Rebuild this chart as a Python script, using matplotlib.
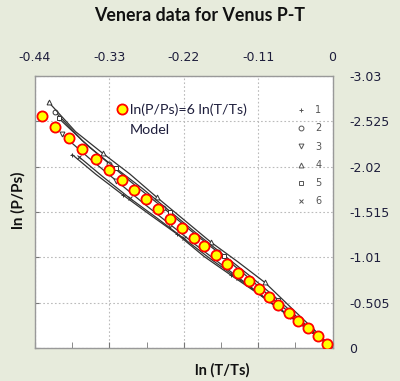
import matplotlib
matplotlib.use("Agg")
import matplotlib.pyplot as plt
from matplotlib.lines import Line2D

# model points ln(P/Ps)=6 ln(T/Ts)
model_lnT = [-0.430, -0.410, -0.389, -0.370, -0.350, -0.331, -0.312, -0.293, -0.276,
             -0.258, -0.240, -0.222, -0.205, -0.190, -0.173, -0.156, -0.140, -0.124,
             -0.109, -0.094, -0.080, -0.065, -0.051, -0.037, -0.022, -0.008]
model_lnP = [-2.580, -2.460, -2.334, -2.220, -2.100, -1.986, -1.872, -1.758, -1.656,
             -1.548, -1.440, -1.332, -1.230, -1.140, -1.038, -0.936, -0.840, -0.744,
             -0.654, -0.564, -0.480, -0.390, -0.306, -0.222, -0.132, -0.048]

# Venera series 1..6
s1_lnT = [-0.385, -0.35, -0.31, -0.27, -0.23, -0.19, -0.15, -0.11, -0.07, -0.035, 0.0]
s1_lnP = [-2.155, -1.935, -1.705, -1.485, -1.27, -1.02, -0.81, -0.605, -0.385, -0.20, 0.0]
s2_lnT = [-0.41, -0.37, -0.33, -0.29, -0.25, -0.21, -0.17, -0.13, -0.09, -0.05, 0.0]
s2_lnP = [-2.63, -2.31, -2.05, -1.80, -1.56, -1.31, -1.07, -0.82, -0.56, -0.31, 0.0]
s3_lnT = [-0.40, -0.36, -0.32, -0.28, -0.24, -0.20, -0.16, -0.12, -0.08, -0.04, 0.0]
s3_lnP = [-2.38, -2.115, -1.865, -1.615, -1.375, -1.135, -0.905, -0.675, -0.445, -0.23, 0.0]
s4_lnT = [-0.42, -0.38, -0.34, -0.30, -0.26, -0.22, -0.18, -0.14, -0.10, -0.06, -0.03, 0.0]
s4_lnP = [-2.74, -2.41, -2.17, -1.94, -1.68, -1.43, -1.18, -0.96, -0.73, -0.44, -0.225, 0.0]
s5_lnT = [-0.405, -0.36, -0.32, -0.28, -0.24, -0.20, -0.16, -0.12, -0.08, -0.04, 0.0]
s5_lnP = [-2.56, -2.24, -2.00, -1.77, -1.52, -1.27, -1.03, -0.79, -0.535, -0.26, 0.0]
s6_lnT = [-0.375, -0.34, -0.30, -0.26, -0.22, -0.18, -0.14, -0.10, -0.06, -0.03, 0.0]
s6_lnP = [-2.13, -1.91, -1.67, -1.45, -1.22, -0.99, -0.775, -0.555, -0.34, -0.17, 0.0]

series_names = ["1", "2", "3", "4", "5", "6"]
series_markers = ["+", "o", "v", "^", "s", "x"]

x_ticks = [-0.44, -0.33, -0.22, -0.11, 0]
x_labels = ["-0.44", "-0.33", "-0.22", "-0.11", "0"]
x_minor = [-0.385, -0.275, -0.165, -0.055]
y_ticks = [-3.03, -2.525, -2.02, -1.515, -1.01, -0.505, 0]
y_labels = ["-3.03", "-2.525", "-2.02", "-1.515", "-1.01", "-0.505", "0"]

bg = "#E7EBDC"
txt = "#1E1E3C"

fig = plt.figure(figsize=(4, 3.81), dpi=100, facecolor=bg)
ax = fig.add_axes([0.0875, 0.0866, 0.7438, 0.7139])
ax.set_facecolor("white")

all_series = [(s1_lnT, s1_lnP), (s2_lnT, s2_lnP), (s3_lnT, s3_lnP),
              (s4_lnT, s4_lnP), (s5_lnT, s5_lnP), (s6_lnT, s6_lnP)]
handles = []
for (xs, ys), name, m in zip(all_series, series_names, series_markers):
    ax.plot(xs, ys, color="#333333", lw=0.9, marker=m, markersize=3.5,
            markerfacecolor="white", markeredgewidth=0.7, markevery=2, zorder=2)
    handles.append(Line2D([], [], ls="none", marker=m, markersize=3.5, color="#555555",
                          markerfacecolor="white", markeredgewidth=0.7, label=name))

model, = ax.plot(model_lnT, model_lnP, ls="none", marker="o", markersize=7.3,
                 markerfacecolor="#FFFF00", markeredgecolor="#FF0000",
                 markeredgewidth=1.3, zorder=3, label="ln(P/Ps)=6 ln(T/Ts)")

ax.set_xlim(-0.44, 0)
ax.set_ylim(0, -3.03)
ax.set_xticks(x_ticks)
ax.set_xticklabels(x_labels)
ax.set_xticks(x_minor, minor=True)
ax.set_yticks(y_ticks)
ax.set_yticklabels(y_labels)

ax.tick_params(axis="x", which="both", bottom=True, top=False, labelbottom=False,
               labeltop=True, direction="in", length=4, color="#777777",
               labelsize=9, labelcolor=txt, pad=9)
ax.tick_params(axis="y", left=True, right=False, labelleft=False, labelright=True,
               direction="in", length=3, color="#777777", labelsize=9,
               labelcolor=txt, pad=12)
for lab in ax.get_yticklabels():
    lab.set_horizontalalignment("left")

ax.grid(True, which="major", color="#BBBBBB", ls=(0, (1.5, 2)), lw=0.8)
for sp in ax.spines.values():
    sp.set_color("#999999")
    sp.set_linewidth(1)

leg1 = ax.legend(handles=[model], loc="upper left", bbox_to_anchor=(0.235, 0.947),
                 frameon=False, handlelength=0.6, handletextpad=0.25,
                 prop={"family": "Lato", "size": 10.3}, labelcolor=txt)
ax.add_artist(leg1)
ax.text(0.32, 0.801, "Model", transform=ax.transAxes, ha="left", va="center",
        family="Lato", fontsize=10.3, color=txt)
ax.legend(handles=handles, loc="upper left", bbox_to_anchor=(0.85, 0.925),
          frameon=False, handlelength=0.8, handletextpad=1.1, labelspacing=0.85,
          prop={"size": 7}, labelcolor="#555555")

fig.text(0.5, 0.96, "Venera data for Venus P-T", ha="center", va="center",
         fontsize=12.8, fontweight="bold", family="Lato", color="#111111")
fig.text(0.045, 0.475, "ln (P/Ps)", rotation=90, ha="center", va="center",
         fontsize=11, fontweight="bold", family="Lato", color="#111111")
fig.text(0.556, 0.027, "ln (T/Ts)", ha="center", va="center",
         fontsize=10.5, fontweight="bold", family="Lato", color="#111111")

fig.savefig("out.png", dpi=100, facecolor=bg)
